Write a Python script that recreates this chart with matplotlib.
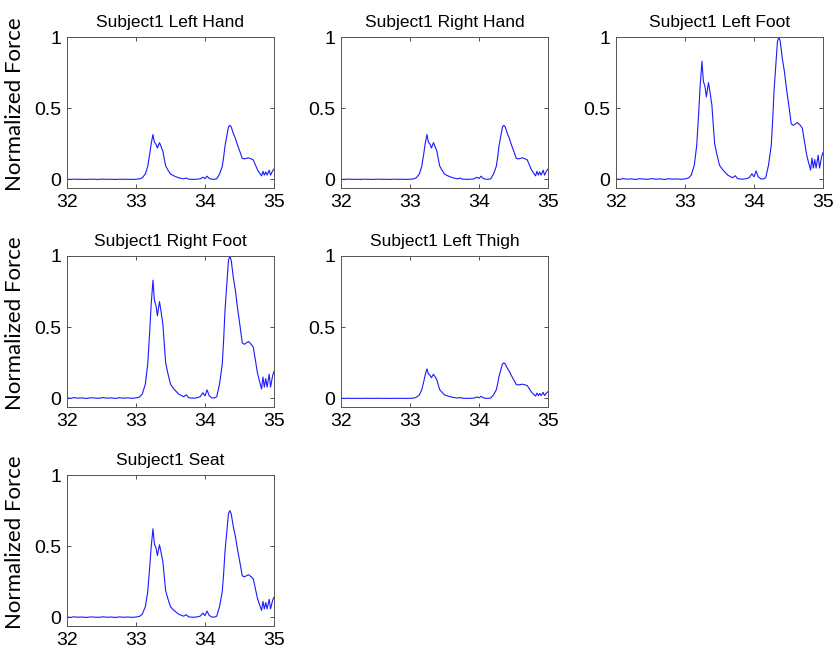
import numpy as np
import matplotlib
matplotlib.use("Agg")
import matplotlib.pyplot as plt

# time axis (s) and normalized force profile
t = [32.00, 32.05, 32.10, 32.16, 32.22, 32.28, 32.34, 32.40, 32.46, 32.52,
     32.58, 32.64, 32.70, 32.76, 32.82, 32.88, 32.94, 33.00, 33.05, 33.09,
     33.135, 33.17, 33.20, 33.22, 33.246, 33.266, 33.29, 33.31, 33.34, 33.36,
     33.39, 33.41, 33.43, 33.46, 33.50, 33.55, 33.62, 33.69, 33.73, 33.76,
     33.80, 33.84, 33.89, 33.93, 33.97, 34.00, 34.03, 34.06, 34.10, 34.14,
     34.17, 34.21, 34.25, 34.27, 34.29, 34.32, 34.34, 34.36, 34.38, 34.41,
     34.44, 34.47, 34.51, 34.54, 34.57, 34.60, 34.63, 34.67, 34.70, 34.73,
     34.76, 34.79, 34.82, 34.84, 34.86, 34.88, 34.90, 34.93, 34.95, 34.98,
     35.00]
force = [0.005, 0.000, 0.006, 0.002, 0.004, 0.000, 0.005, 0.003, 0.001, 0.006,
         0.002, 0.004, 0.000, 0.005, 0.002, 0.004, 0.001, 0.004, 0.010, 0.030,
         0.100, 0.240, 0.480, 0.660, 0.830, 0.690, 0.650, 0.580, 0.680, 0.620,
         0.520, 0.380, 0.250, 0.180, 0.100, 0.066, 0.030, 0.012, 0.026, 0.006,
         0.003, 0.002, 0.006, 0.012, 0.040, 0.018, 0.060, 0.020, 0.003, 0.004,
         0.012, 0.100, 0.240, 0.410, 0.620, 0.830, 0.970, 1.000, 0.970, 0.850,
         0.760, 0.640, 0.500, 0.390, 0.380, 0.390, 0.400, 0.380, 0.360, 0.270,
         0.180, 0.120, 0.066, 0.150, 0.080, 0.140, 0.080, 0.170, 0.080, 0.160,
         0.190]

titles = ["Subject1 Left Hand", "Subject1 Right Hand", "Subject1 Left Foot",
          "Subject1 Right Foot", "Subject1 Left Thigh", "Subject1 Seat"]
peaks = [0.38, 0.38, 1.0, 1.0, 0.25, 0.75]
grid_pos = [(0, 0), (0, 1), (0, 2), (1, 0), (1, 1), (2, 0)]

xticks = [32, 33, 34, 35]
yticks = [0, 0.5, 1]
yticklabels = ["0", "0.5", "1"]

W, H = 833, 653
fig = plt.figure(figsize=(W / 100, H / 100), dpi=100)

col_left = [67, 341, 616]
row_top = [37, 256, 475]
ax_w, ax_h = 207, 151

tick_font = "Liberation Sans"

for title, pk, (r, c) in zip(titles, peaks, grid_pos):
    x0 = col_left[c] / W
    y0 = 1 - (row_top[r] + ax_h) / H
    ax = fig.add_axes([x0, y0, ax_w / W, ax_h / H])
    ax.plot(t, np.array(force) * pk, color=(0.1, 0.1, 1.0), lw=0.8)
    ax.set_xlim(32, 35)
    ax.set_ylim(-0.06, 1.0)
    ax.set_xticks(xticks)
    ax.set_xticklabels([str(v) for v in xticks], fontsize=14, family=tick_font)
    ax.set_yticks(yticks)
    ax.set_yticklabels(yticklabels, fontsize=14, family=tick_font)
    ax.tick_params(direction="in", top=True, right=True, length=3, width=0.6,
                   pad=4, color="#333333")
    for s in ax.spines.values():
        s.set_linewidth(0.7)
        s.set_color("#555555")
    ax.set_title(title, fontsize=12.5, family=tick_font, pad=7)

# shared-looking y labels on the first column
for r in range(3):
    yc = row_top[r] + ax_h / 2 - 8
    fig.text(15 / W, 1 - yc / H, "Normalized Force", rotation=90,
             ha="center", va="center", fontsize=16, family="Lato")

fig.savefig("out.png", dpi=100)
